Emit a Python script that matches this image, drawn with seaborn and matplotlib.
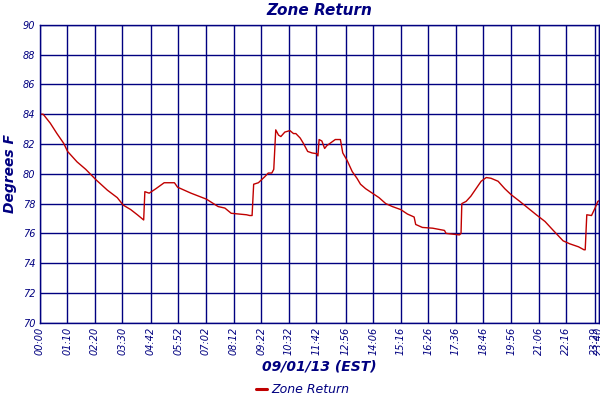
import numpy as np
import pandas as pd
import matplotlib
matplotlib.use("Agg")
import matplotlib.pyplot as plt
import seaborn as sns

# readings (minutes after midnight, degrees F)
minutes = [0, 9, 27, 44, 61, 71, 95, 117, 143, 172, 197, 212, 231, 248, 264,
           267, 278, 295, 316, 342, 350, 384, 423, 453, 470, 486, 525, 533, 539,
           543, 555, 563, 571, 580, 589, 594, 599, 606, 612, 622, 635, 644, 650,
           661, 669, 680, 691, 703, 706, 709, 716, 723, 729, 737, 750, 763, 769,
           780, 793, 805, 814, 827, 844, 861, 878, 895, 916, 933, 950, 954, 971,
           997, 1027, 1031, 1065, 1069, 1071, 1082, 1094, 1107, 1120, 1133, 1145,
           1163, 1180, 1196, 1218, 1239, 1260, 1282, 1303, 1328, 1345, 1367, 1381,
           1384, 1388, 1400, 1409, 1416, 1420]
temps = [84.0, 84.0, 83.4, 82.7, 82.05, 81.5, 80.8, 80.3, 79.6, 78.9, 78.4, 77.9,
         77.6, 77.25, 76.9, 78.8, 78.7, 79.0, 79.4, 79.4, 79.1, 78.7, 78.3, 77.8,
         77.7, 77.35, 77.25, 77.2, 77.2, 79.3, 79.4, 79.6, 79.8, 80.05, 80.05, 80.3,
         82.95, 82.6, 82.5, 82.8, 82.9, 82.7, 82.7, 82.4, 82.05, 81.5, 81.4, 81.35,
         81.2, 82.3, 82.2, 81.7, 81.9, 82.05, 82.3, 82.3, 81.4, 80.9, 80.15, 79.7,
         79.3, 79.0, 78.7, 78.4, 78.0, 77.8, 77.6, 77.3, 77.1, 76.6, 76.4, 76.35,
         76.2, 76.0, 75.9, 76.0, 78.0, 78.15, 78.5, 79.0, 79.5, 79.75, 79.7, 79.5,
         79.0, 78.6, 78.15, 77.7, 77.25, 76.8, 76.2, 75.5, 75.3, 75.1, 74.9, 74.9,
         77.25, 77.2, 77.7, 78.15, 78.2]

tick_labels = ["00:00", "01:10", "02:20", "03:30", "04:42", "05:52", "07:02",
               "08:12", "09:22", "10:32", "11:42", "12:56", "14:06", "15:16",
               "16:26", "17:36", "18:46", "19:56", "21:06", "22:16", "23:29",
               "23:40"]
tick_pos = [int(t[:2]) * 60 + int(t[3:]) for t in tick_labels]

df = pd.DataFrame({"minute": minutes, "Zone Return": temps})

navy = "#000080"
sns.set_style("white")

fig = plt.figure(figsize=(6, 4), dpi=100)
ax = fig.add_axes([0.066, 0.193, 0.933, 0.745])

sns.lineplot(data=df, x="minute", y="Zone Return", ax=ax, color="#c00000",
             linewidth=1.0, label="Zone Return")

ax.set_xlim(0, 1420)
ax.set_ylim(70, 90)
ax.set_yticks(range(70, 91, 2))
ax.set_xticks(tick_pos)
ax.set_xticklabels(tick_labels, rotation=90)
ax.grid(True, color=navy, linewidth=1)
for s in ax.spines.values():
    s.set_color(navy)
    s.set_linewidth(1)
ax.tick_params(length=0, pad=3, labelsize=7, labelcolor=navy)
for lbl in ax.get_xticklabels() + ax.get_yticklabels():
    lbl.set_fontstyle("italic")

ax.set_title("Zone Return", fontsize=11, fontweight="bold", style="italic",
             color=navy, pad=7)
ax.set_xlabel("09/01/13 (EST)", fontsize=10, fontweight="bold", style="italic",
              color=navy, labelpad=3)
ax.set_ylabel("Degrees F", fontsize=10, fontweight="bold", style="italic",
              color=navy, labelpad=4)

leg = ax.legend(loc="center", bbox_to_anchor=(0.47, -0.225), frameon=False,
                fontsize=9, handlelength=0.9, handletextpad=0.3,
                borderpad=0.1)
for t in leg.get_texts():
    t.set_color(navy)
    t.set_fontstyle("italic")
for h in leg.get_lines():
    h.set_linewidth(2.2)

fig.savefig("out.png", dpi=100)
